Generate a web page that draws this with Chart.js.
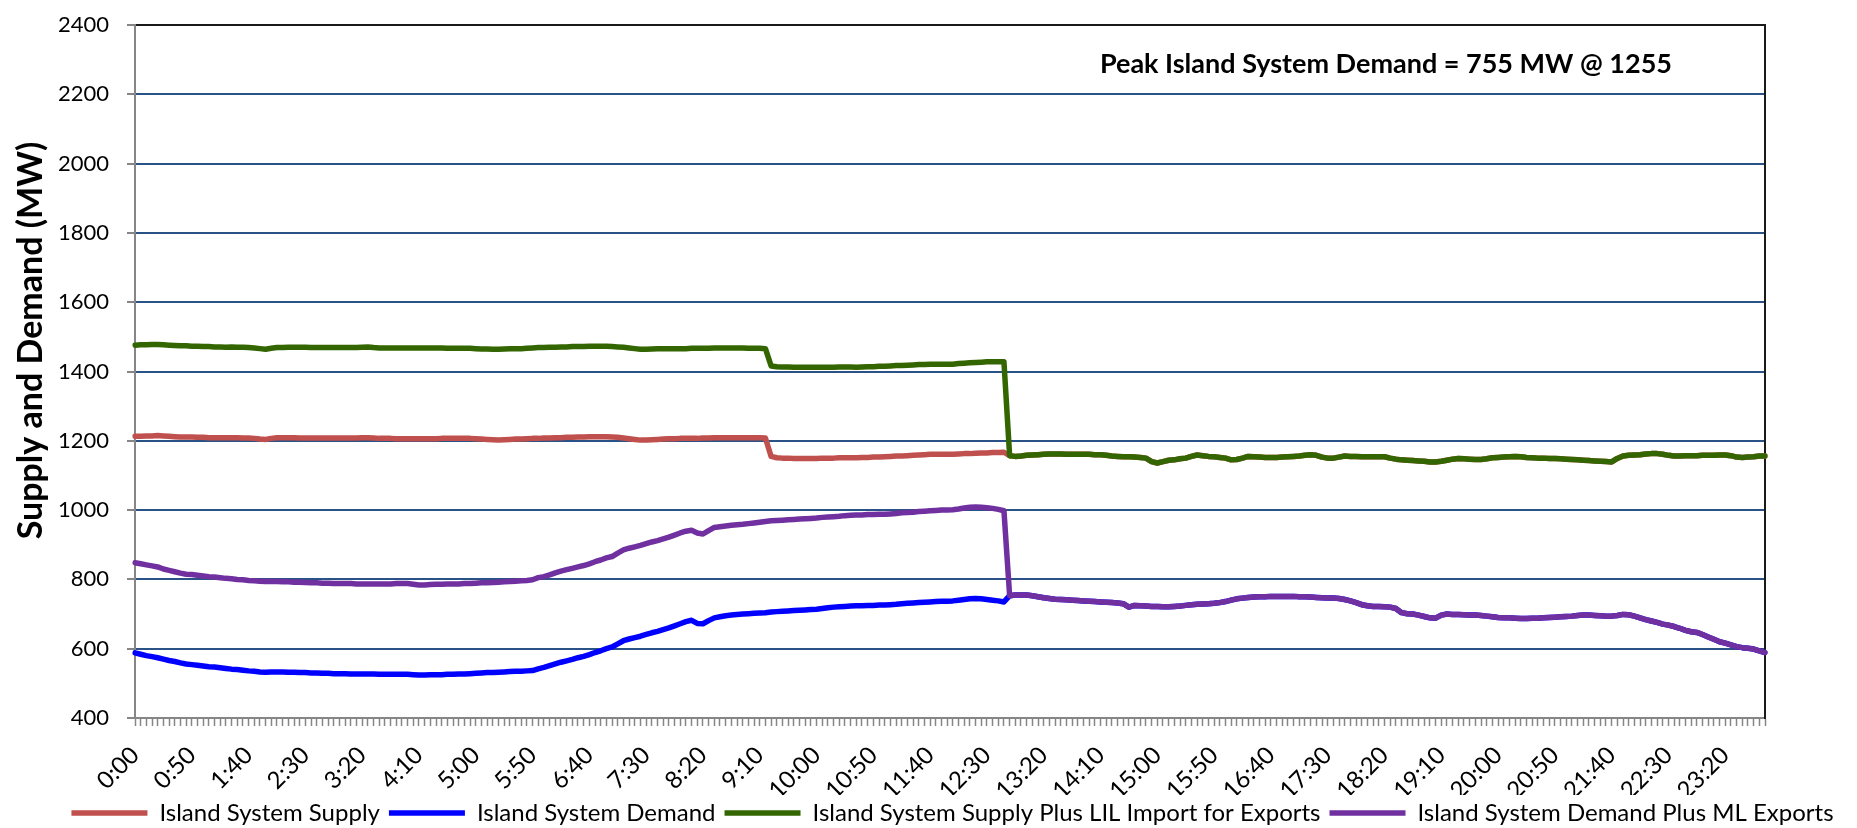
<!DOCTYPE html>
<html>
<head>
<meta charset="utf-8">
<script src="https://cdn.jsdelivr.net/npm/chart.js@4.4.1/dist/chart.umd.min.js"></script>
<style>
  html, body { margin: 0; padding: 0; background: #fff; }
</style>
</head>
<body>
<canvas id="myChart" width="1857" height="828"></canvas>
<script>
// 5 minute readings, 0:00 to 23:55 (one row per hour)
const supply = [
  1213,1213,1214,1214,1215,1214,1213,1212,1211,1211,1211,1210,
  1210,1209,1209,1209,1209,1209,1209,1208,1208,1207,1205,1204,
  1207,1209,1209,1209,1209,1208,1208,1208,1208,1208,1208,1208,
  1208,1208,1208,1208,1209,1209,1208,1207,1207,1207,1206,1206,
  1206,1206,1206,1206,1206,1206,1207,1207,1207,1207,1207,1207,
  1206,1205,1204,1203,1202,1203,1204,1205,1205,1206,1207,1207,
  1208,1208,1209,1209,1210,1210,1211,1211,1212,1212,1212,1212,
  1211,1210,1208,1206,1204,1202,1202,1203,1204,1205,1206,1206,
  1207,1207,1207,1207,1208,1208,1209,1209,1209,1209,1209,1209,
  1209,1209,1209,1208,1155,1151,1150,1150,1149,1149,1149,1149,
  1149,1150,1150,1150,1151,1151,1151,1151,1152,1152,1153,1153,
  1154,1155,1156,1156,1157,1158,1159,1160,1161,1161,1161,1161,
  1161,1162,1163,1163,1164,1165,1165,1166,1166,1167,1157,1155,
  1156,1158,1159,1160,1161,1162,1162,1162,1161,1161,1161,1161,
  1161,1160,1160,1158,1156,1155,1154,1154,1153,1152,1150,1140,
  1136,1140,1144,1145,1148,1150,1155,1159,1157,1155,1154,1152,
  1150,1145,1146,1150,1155,1154,1153,1152,1152,1152,1153,1154,
  1155,1156,1158,1160,1158,1153,1150,1150,1153,1156,1155,1155,
  1154,1154,1154,1154,1154,1150,1147,1145,1144,1143,1142,1141,
  1139,1139,1141,1144,1147,1149,1148,1147,1146,1146,1148,1151,
  1152,1153,1154,1155,1154,1152,1151,1150,1150,1149,1149,1148,
  1147,1146,1145,1144,1143,1142,1141,1140,1139,1149,1156,1158,
  1159,1160,1162,1163,1163,1161,1158,1156,1156,1157,1157,1157,
  1158,1158,1158,1159,1159,1157,1153,1152,1153,1154,1156,1156
];

const demand = [
  588,584,580,577,574,570,566,563,559,556,554,552,
  550,548,547,545,543,541,540,538,536,535,533,532,
  533,533,533,532,532,531,531,530,530,529,529,528,
  528,528,527,527,527,527,527,526,526,526,526,526,
  526,525,524,524,525,525,525,526,526,527,527,528,
  529,530,531,531,532,533,534,535,535,536,537,542,
  546,551,556,561,565,569,574,578,583,589,594,600,
  605,614,623,628,632,636,641,646,650,655,660,666,
  672,678,682,673,672,681,689,692,695,697,699,700,
  701,702,703,704,706,707,708,709,710,711,712,713,
  714,716,718,720,721,722,723,724,724,725,725,726,
  726,727,728,730,731,732,733,734,735,736,737,737,
  738,740,742,744,745,744,742,740,738,735,753,755,
  755,755,753,750,747,745,743,742,741,740,739,738,
  737,736,735,734,733,732,730,720,725,724,723,722,
  722,721,721,722,723,725,727,728,729,730,731,733,
  736,740,744,746,748,749,750,750,751,751,751,751,
  751,750,750,749,748,747,746,746,745,742,738,733,
  727,724,722,722,721,720,716,704,701,700,697,693,
  689,688,697,700,699,699,698,697,697,696,694,692,
  690,689,689,688,687,687,688,688,689,690,691,692,
  693,694,696,697,697,696,695,694,694,696,699,698,
  694,689,684,680,676,671,668,664,659,653,649,647,
  641,634,627,620,616,611,606,603,601,599,594,589
];

const supplyPlusLil = [
  1476,1477,1477,1478,1478,1477,1476,1475,1474,1474,1473,1473,
  1472,1472,1471,1471,1470,1471,1470,1470,1469,1468,1466,1464,
  1467,1469,1469,1470,1470,1470,1470,1469,1469,1469,1469,1469,
  1469,1469,1469,1469,1470,1471,1469,1468,1468,1468,1468,1468,
  1468,1468,1468,1468,1468,1468,1468,1467,1467,1467,1467,1467,
  1466,1465,1465,1464,1464,1465,1466,1466,1466,1467,1468,1469,
  1469,1470,1470,1471,1471,1472,1472,1472,1473,1473,1473,1473,
  1472,1471,1470,1468,1466,1464,1464,1465,1466,1466,1466,1466,
  1466,1466,1467,1467,1467,1467,1468,1468,1468,1468,1468,1468,
  1467,1467,1467,1466,1416,1414,1413,1413,1412,1412,1412,1412,
  1412,1412,1412,1412,1413,1413,1413,1412,1413,1414,1414,1415,
  1415,1416,1417,1417,1418,1419,1420,1420,1421,1421,1421,1421,
  1421,1423,1424,1425,1426,1427,1428,1428,1428,1428,1157,1155,
  1156,1158,1159,1160,1161,1162,1162,1162,1161,1161,1161,1161,
  1161,1160,1160,1158,1156,1155,1154,1154,1153,1152,1150,1140,
  1136,1140,1144,1145,1148,1150,1155,1159,1157,1155,1154,1152,
  1150,1145,1146,1150,1155,1154,1153,1152,1152,1152,1153,1154,
  1155,1156,1158,1160,1158,1153,1150,1150,1153,1156,1155,1155,
  1154,1154,1154,1154,1154,1150,1147,1145,1144,1143,1142,1141,
  1139,1139,1141,1144,1147,1149,1148,1147,1146,1146,1148,1151,
  1152,1153,1154,1155,1154,1152,1151,1150,1150,1149,1149,1148,
  1147,1146,1145,1144,1143,1142,1141,1140,1139,1149,1156,1158,
  1159,1160,1162,1163,1163,1161,1158,1156,1156,1157,1157,1157,
  1158,1158,1158,1159,1159,1157,1153,1152,1153,1154,1156,1156
];

const demandPlusMl = [
  848,845,842,839,836,830,826,822,818,815,814,812,
  810,808,807,805,803,802,800,799,797,796,795,794,
  794,794,793,793,792,792,791,790,790,789,789,788,
  788,788,788,787,787,787,787,787,787,787,788,788,
  788,786,784,784,785,786,786,787,787,787,788,788,
  789,790,790,791,792,793,794,795,796,797,799,805,
  808,813,819,824,828,832,836,840,845,851,856,862,
  866,876,885,890,894,898,903,908,912,917,922,928,
  934,939,942,934,931,941,950,952,954,956,958,959,
  961,963,965,967,969,970,971,972,973,974,975,976,
  977,979,980,981,982,984,985,986,986,987,987,988,
  988,989,990,992,993,994,996,997,998,999,1000,1000,
  1001,1003,1006,1008,1009,1008,1007,1005,1002,998,753,755,
  755,755,753,750,747,745,743,742,741,740,739,738,
  737,736,735,734,733,732,730,720,725,724,723,722,
  722,721,721,722,723,725,727,728,729,730,731,733,
  736,740,744,746,748,749,750,750,751,751,751,751,
  751,750,750,749,748,747,746,746,745,742,738,733,
  727,724,722,722,721,720,716,704,701,700,697,693,
  689,688,697,700,699,699,698,697,697,696,694,692,
  690,689,689,688,687,687,688,688,689,690,691,692,
  693,694,696,697,697,696,695,694,694,696,699,698,
  694,689,684,680,676,671,668,664,659,653,649,647,
  641,634,627,620,616,611,606,603,601,599,594,589
];

// labels shown under the axis (every 50 minutes)
const tickLabels = ['0:00','0:50','1:40','2:30','3:20','4:10','5:00','5:50','6:40','7:30',
  '8:20','9:10','10:00','10:50','11:40','12:30','13:20','14:10','15:00','15:50',
  '16:40','17:30','18:20','19:10','20:00','20:50','21:40','22:30','23:20'];

const yTitleText = 'Supply and Demand (MW)';
const peakText = 'Peak Island System Demand = 755 MW @ 1255';

// one category per 5 minutes
const times = [];
for (let m = 0; m < 24 * 60; m += 5) {
  times.push(Math.floor(m / 60) + ':' + String(m % 60).padStart(2, '0'));
}

Chart.defaults.font.family = 'Lato';
Chart.defaults.color = '#000';

const gridBlue = '#2b5286';
const axisGray = '#868686';

// texts drawn straight on the canvas: peak note and the y title
const chartTexts = {
  id: 'chartTexts',
  afterDraw(chart) {
    const { ctx, chartArea } = chart;
    ctx.save();
    ctx.fillStyle = '#000';
    ctx.textBaseline = 'middle';

    ctx.font = 'bold 27px Lato';
    ctx.textAlign = 'right';
    ctx.fillText(peakText, chartArea.right - 93, chartArea.top + 39);

    ctx.translate(chartArea.left - 104, (chartArea.top + chartArea.bottom) / 2 - 31);
    ctx.rotate(-Math.PI / 2);
    ctx.font = 'bold 34px Lato';
    ctx.textAlign = 'center';
    ctx.fillText(yTitleText, 0, 0);
    ctx.restore();
  }
};

// legend: fixed height, and nudged up a little like the original
const legendPlace = {
  id: 'legendPlace',
  beforeInit(chart) {
    const legend = chart.legend;
    const fit = legend.fit;
    legend.fit = function () {
      fit.call(this);
      this.height = 33;
    };
    const draw = legend.draw;
    legend.draw = function () {
      this.ctx.save();
      this.ctx.translate(0, -3);
      draw.call(this);
      this.ctx.restore();
    };
  }
};

const line = (label, data, color, order) => ({
  label,
  data,
  borderColor: color,
  backgroundColor: color,
  borderWidth: 5.5,
  pointRadius: 0,
  borderCapStyle: 'round',
  borderJoinStyle: 'round',
  fill: false,
  tension: 0,
  order
});

const config = {
  type: 'line',
  data: {
    labels: times,
    datasets: [
      line('Island System Supply', supply, '#C0504D', 4),
      line('Island System Demand', demand, '#0000FF', 3),
      line('Island System Supply Plus LIL Import for Exports', supplyPlusLil, '#336600', 2),
      line('Island System Demand Plus ML Exports', demandPlusMl, '#7030A0', 1)
    ]
  },
  options: {
    responsive: false,
    animation: false,
    layout: { padding: { top: 25, left: 48, right: 0, bottom: 0 } },
    plugins: {
      tooltip: { enabled: false },
      legend: {
        position: 'bottom',
        labels: {
          usePointStyle: true,
          pointStyle: 'line',
          pointStyleWidth: 76,
          padding: 9,
          font: { size: 24 },
          sort: (a, b) => a.datasetIndex - b.datasetIndex
        }
      }
    },
    scales: {
      x: {
        grid: {
          display: true,
          drawOnChartArea: false,
          drawTicks: true,
          tickLength: 8,
          tickColor: axisGray,
          tickWidth: 1.5
        },
        border: { color: axisGray, width: 2 },
        ticks: {
          autoSkip: false,
          minRotation: 45,
          maxRotation: 45,
          padding: 15,
          font: { size: 24 },
          callback: function (value) {
            const t = this.getLabelForValue(value);
            return tickLabels.includes(t) ? t : '';
          }
        },
        afterFit(scale) { scale.height = 77; }
      },
      y: {
        min: 400,
        max: 2400,
        ticks: {
          stepSize: 200,
          padding: 18,
          font: { size: 22 },
          callback: v => String(v)
        },
        grid: {
          color: c => c.tick.value === 2400 ? '#1a1a1a' : (c.tick.value === 400 ? axisGray : gridBlue),
          lineWidth: 2,
          tickLength: 8,
          tickColor: axisGray,
          tickWidth: 2
        },
        border: { color: axisGray, width: 2 },
        afterFit(scale) {
          scale.width = 87;
          scale.paddingTop = 0;
          scale.paddingBottom = 0;
        }
      },
      yRight: {
        position: 'right',
        min: 400,
        max: 2400,
        ticks: { display: false },
        grid: { display: false },
        border: { color: '#1a1a1a', width: 2 },
        afterFit(scale) { scale.width = 92; }
      }
    }
  },
  plugins: [chartTexts, legendPlace]
};

const myChart = new Chart(document.getElementById('myChart'), config);
</script>
</body>
</html>
